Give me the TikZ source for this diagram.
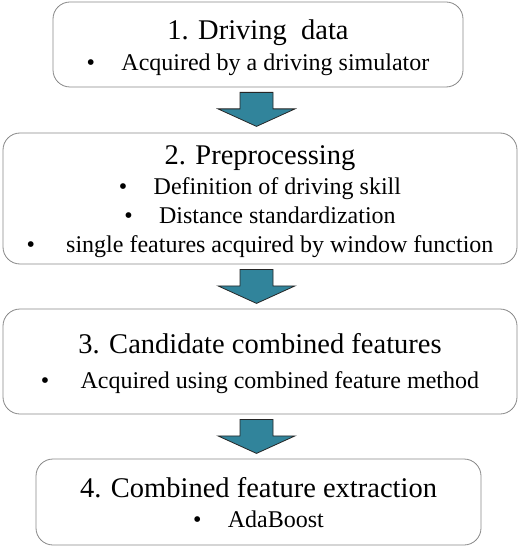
\documentclass[tikz,border=0pt]{standalone}
\usepackage{fontspec}
\setmainfont{Liberation Serif}
\usetikzlibrary{calc}
\definecolor{boxgray}{HTML}{878787}
\definecolor{arrowteal}{HTML}{31849B}
\newcommand{\steptitle}[2][26pt]{\rule{0pt}{#1}{\fontsize{28.5}{29}\selectfont #2}}
\newcommand{\stepitem}[2][1.1em]{\textbullet\hspace{#1}#2}
\tikzset{
    stepbox/.style={draw=boxgray, line width=0.8pt, rounded corners=17pt, align=center, inner sep=0pt, font=\fontsize{24}{29}\selectfont},
    flowarrow/.style={fill=arrowteal, draw=black!85, line width=0.8pt, line join=miter}
}
\begin{document}
\begin{tikzpicture}[x=1pt,y=1pt,yscale=-1,xscale=1]
    \useasboundingbox (0,0) rectangle (520,548);
    \node[stepbox, minimum width=410pt, minimum height=85pt] (box1) at (258,44.5) {\steptitle[27pt]{1. Driving\hspace{0.5em}data}\\[2pt] \stepitem{Acquired by a driving simulator}};
    \node[stepbox, minimum width=514pt, minimum height=131pt] (box2) at (260,198.5) {\steptitle[26pt]{2. Preprocessing}\\[1pt] \stepitem{Definition of driving skill}\\ \stepitem{Distance standardization}\\ \stepitem[1.3em]{single features acquired by window function}};
    \node[stepbox, minimum width=514pt, minimum height=105pt] (box3) at (260,361.5) {\steptitle[25pt]{3. Candidate combined features}\\[6pt] \stepitem[1.3em]{Acquired using combined feature method}};
    \node[stepbox, minimum width=445pt, minimum height=86pt] (box4) at (258.5,502) {\steptitle[22pt]{4. Combined feature extraction}\\[1pt] \stepitem{AdaBoost}};
    \coordinate (mid) at (256.5,0);
    \foreach \a in {box1,box2,box3} {
        \draw[flowarrow] (\a.south -| mid) ++(-16.5,5) -- ++(33,0) -- ++(0,16.5) -- ++(22,0) -- ++(-38.5,17.5) -- ++(-38.5,-17.5) -- ++(22,0) -- cycle;
    }
\end{tikzpicture}
\end{document}
